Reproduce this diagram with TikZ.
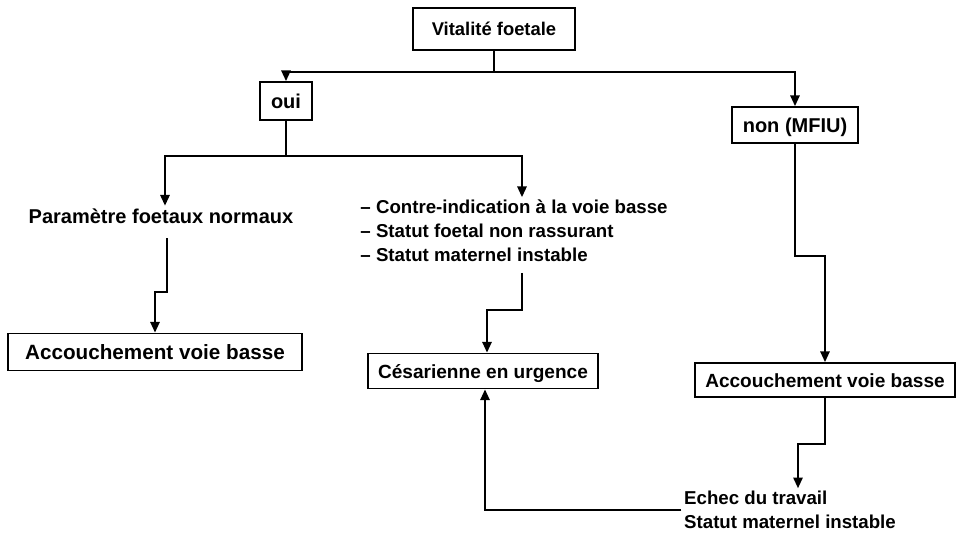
\documentclass[tikz,border=0pt]{standalone}
\usepackage{fontspec}
\setmainfont{Liberation Sans}
\usetikzlibrary{arrows.meta,calc}
\newcommand{\fsz}[1]{\fontsize{#1}{18}\selectfont\bfseries}
\tikzset{
  box/.style={draw, line width=1.4pt, inner sep=0pt, text height=10.5pt, text depth=0pt},
  txt/.style={inner sep=2pt, align=left},
  conn/.style={line width=1.4pt},
  arr/.style={line width=1.4pt, -{Triangle[length=8pt,width=7pt]}}
}
\begin{document}
\begin{tikzpicture}[x=0.75pt,y=-0.75pt]
\path[use as bounding box] (0,0) rectangle (957,539);

\node[box, minimum width=121.5pt, minimum height=31.5pt, font=\fsz{13.8}] (vit) at (494,29) {Vitalité foetale};
\node[box, minimum width=39pt, minimum height=28.5pt, font=\fsz{15}] (oui) at (286,101) {oui};
\node[box, minimum width=94.5pt, minimum height=27pt, font=\fsz{15}] (non) at (795,125) {non (MFIU)};
\node[txt, font=\fsz{15}] (param) at (161,216) {Paramètre foetaux normaux};
\node[txt, font=\fsz{14}] (list) at (514,231) {\textendash\ Contre-indication à la voie basse\\\textendash\ Statut foetal non rassurant\\\textendash\ Statut maternel instable};
\node[box, minimum width=220.5pt, minimum height=27.75pt, font=\fsz{15.5}] (acc1) at (155,352) {Accouchement voie basse};
\node[box, minimum width=172.5pt, minimum height=26.25pt, font=\fsz{14.3}] (ces) at (483,371) {Césarienne en urgence};
\node[box, minimum width=195pt, minimum height=25.5pt, font=\fsz{14.3}] (acc2) at (825,380) {Accouchement voie basse};
\node[txt, font=\fsz{14}] (echec) at (790,510) {Echec du travail\\Statut maternel instable};

\draw[conn] (vit.south) -- ++(0,21) coordinate (j1);
\draw[arr] (j1) -| (oui.north);
\draw[arr] (j1) -| (non.north);
\draw[conn] (oui.south) -- ++(0,35) coordinate (j2);
\draw[arr] (j2) -| ($(param.north)+(4,0)$);
\draw[arr] (j2) -| ($(list.north)+(8,0)$);
\draw[arr] ($(param.south)+(6,12)$) -- ++(0,54) -| (acc1.north);
\draw[arr] ($(list.south)+(8,8)$) -- ++(0,37) -| ($(ces.north)+(4,0)$);
\draw[arr] (non.south) -- ++(0,112) -| (acc2.north);
\draw[arr] (acc2.south) -- ++(0,46) -| ($(echec.north)+(8,0)$);
\draw[arr] (echec.west) -| ($(ces.south)+(2,0)$);
\end{tikzpicture}
\end{document}
